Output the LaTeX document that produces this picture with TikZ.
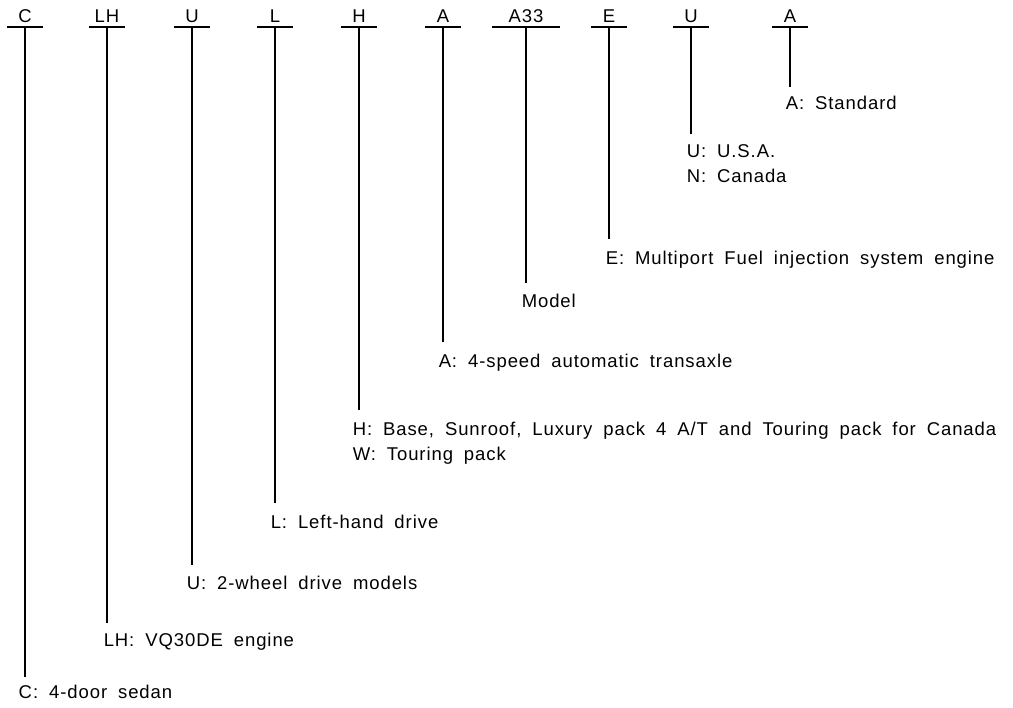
\documentclass[tikz,border=0pt]{standalone}
\usepackage{fontspec}
\setmainfont{Liberation Sans}[LetterSpace=5, WordSpace=1.8]

\begin{document}
\begin{tikzpicture}[x=1pt, y=-1pt, line width=1.5pt,
  every node/.style={font=\fontsize{18.5}{25}\selectfont},
  code/.style={anchor=south, minimum width=35pt, inner xsep=0pt, inner ysep=4pt},
  desc/.style={anchor=north west, inner sep=0pt, align=left}]
\useasboundingbox (0,0) rectangle (1013,708);
% code letters on top
\node[code] (body) at (25,27) {C};
\node[code] (engine) at (107,27) {LH};
\node[code] (axle) at (192,27) {U};
\node[code] (hand) at (275,27) {L};
\node[code] (grade) at (359,27) {H};
\node[code] (trans) at (443,27) {A};
\node[code, minimum width=67pt] (model) at (526,27) {A33};
\node[code] (fuel) at (609,27) {E};
\node[code] (market) at (691,27) {U};
\node[code] (spec) at (790,27) {A};
% meanings
\node[desc] (bodytxt) at (18,684) {C: 4-door sedan};
\node[desc] (enginetxt) at (103,632) {LH: VQ30DE engine};
\node[desc] (axletxt) at (186,575) {U: 2-wheel drive models};
\node[desc] (handtxt) at (270,514) {L: Left-hand drive};
\node[desc] (gradetxt) at (352,421) {H: Base, Sunroof, Luxury pack 4 A/T and Touring pack for Canada\\W: Touring pack};
\node[desc] (transtxt) at (438,353) {A: 4-speed automatic transaxle};
\node[desc] (modeltxt) at (521,293) {Model};
\node[desc] (fueltxt) at (605,250) {E: Multiport Fuel injection system engine};
\node[desc] (markettxt) at (686,144) {U: U.S.A.\\N: Canada};
\node[desc] (spectxt) at (785,95) {A: Standard};
% bars
\draw (body.south west) -- (body.south east);
\draw (engine.south west) -- (engine.south east);
\draw (axle.south west) -- (axle.south east);
\draw (hand.south west) -- (hand.south east);
\draw (grade.south west) -- (grade.south east);
\draw (trans.south west) -- (trans.south east);
\draw (model.south west) -- (model.south east);
\draw (fuel.south west) -- (fuel.south east);
\draw (market.south west) -- (market.south east);
\draw (spec.south west) -- (spec.south east);
% stems
\draw (body.south) -- ([yshift=7pt]body.south |- bodytxt.north);
\draw (engine.south) -- ([yshift=9pt]engine.south |- enginetxt.north);
\draw (axle.south) -- ([yshift=10pt]axle.south |- axletxt.north);
\draw (hand.south) -- ([yshift=11pt]hand.south |- handtxt.north);
\draw (grade.south) -- ([yshift=11pt]grade.south |- gradetxt.north);
\draw (trans.south) -- ([yshift=11pt]trans.south |- transtxt.north);
\draw (model.south) -- ([yshift=10pt]model.south |- modeltxt.north);
\draw (fuel.south) -- ([yshift=11pt]fuel.south |- fueltxt.north);
\draw (market.south) -- ([yshift=10pt]market.south |- markettxt.north);
\draw (spec.south) -- ([yshift=8pt]spec.south |- spectxt.north);
\end{tikzpicture}
\end{document}
